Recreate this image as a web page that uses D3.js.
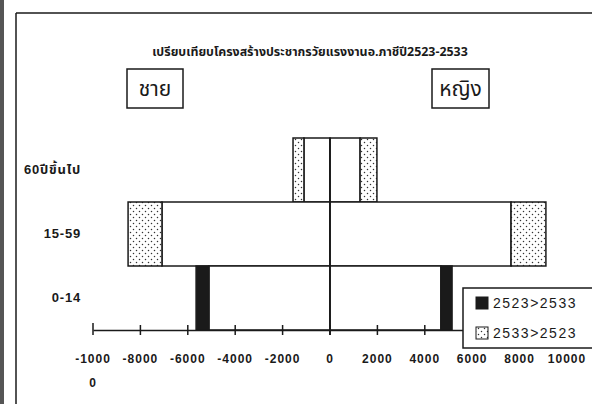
<!DOCTYPE html>
<html><head><meta charset="utf-8">
<script src="https://cdn.jsdelivr.net/npm/d3@7"></script>
<style>
body{margin:0;background:#fff;}
svg{display:block;}
</style></head><body>
<svg id="c" width="592" height="404"></svg>
<script>
const categories = ["60ปีขึ้นไป", "15-59", "0-14"];
const male2523   = [1100, 7090, 5650];
const male2533   = [1560, 8520, 5110];
const female2523 = [1270, 7640, 5150];
const female2533 = [1980, 9110, 4680];
const tickValues = [-10000, -8000, -6000, -4000, -2000, 0, 2000, 4000, 6000, 8000, 10000];
const title = "เปรียบเทียบโครงสร้างประชากรวัยแรงงานอ.ภาชีปี2523-2533";
const legendLabels = ["2523>2533", "2533>2523"];
const sideLabels = ["ชาย", "หญิง"];

const svg = d3.select("#c");
const ink = "#1a1a1a";
const thaiFont = "'Noto Sans Thai','Noto Sans','DejaVu Sans',sans-serif";
const numFont = "'Liberation Sans',Arial,'Noto Sans Thai',sans-serif";

// pattern
const defs = svg.append("defs");
const pat = defs.append("pattern").attr("id","dots").attr("patternUnits","userSpaceOnUse")
  .attr("width",6).attr("height",6);
pat.append("rect").attr("width",6).attr("height",6).attr("fill","#fff");
pat.append("circle").attr("cx",1.5).attr("cy",1.5).attr("r",0.75).attr("fill","#333");
pat.append("circle").attr("cx",4.5).attr("cy",4.5).attr("r",0.75).attr("fill","#333");

// scan border & frame
svg.append("rect").attr("x",0).attr("y",0).attr("width",4).attr("height",404).attr("fill","#555");
svg.append("line").attr("x1",16).attr("x2",592).attr("y1",13).attr("y2",13).attr("stroke",ink).attr("stroke-width",1.5);
svg.append("line").attr("x1",16).attr("x2",16).attr("y1",13).attr("y2",404).attr("stroke",ink).attr("stroke-width",1.5);

const x = d3.scaleLinear().domain([-10000, 10000]).range([93, 567]);
const y = d3.scaleBand().domain(categories).range([138, 330]).padding(0);

// title
svg.append("text").attr("x",310).attr("y",56).attr("text-anchor","middle")
  .attr("font-family",thaiFont).attr("font-weight","bold").attr("font-size",12.4)
  .attr("fill",ink).text(title);

// side boxes
const boxes = [{x0:127,x1:183,label:sideLabels[0]},{x0:432,x1:489,label:sideLabels[1]}];
boxes.forEach(b=>{
  svg.append("rect").attr("x",b.x0).attr("y",69).attr("width",b.x1-b.x0).attr("height",39)
    .attr("fill","#fff").attr("stroke",ink).attr("stroke-width",1.5);
  svg.append("text").attr("x",(b.x0+b.x1)/2).attr("y",96).attr("text-anchor","middle")
    .attr("font-family",thaiFont).attr("font-size",21).attr("fill",ink).text(b.label);
});

// bars
const rows = categories.map((c,i)=>({c, m23:male2523[i], m33:male2533[i], f23:female2523[i], f33:female2533[i]}));
const g = svg.append("g");
function seg(c, v0, v1, fill){
  g.append("rect")
    .attr("x", Math.min(x(v0),x(v1))).attr("width", Math.abs(x(v1)-x(v0)))
    .attr("y", y(c)).attr("height", y.bandwidth())
    .attr("fill", fill).attr("stroke", ink).attr("stroke-width",1.5);
}
rows.forEach(r=>{
  const mMin = Math.min(r.m23, r.m33), mMax = Math.max(r.m23, r.m33);
  seg(r.c, 0, -mMin, "#fff");
  seg(r.c, -mMin, -mMax, r.m23 > r.m33 ? "#1a1a1a" : "url(#dots)");
  const fMin = Math.min(r.f23, r.f33), fMax = Math.max(r.f23, r.f33);
  seg(r.c, 0, fMin, "#fff");
  seg(r.c, fMin, fMax, r.f23 > r.f33 ? "#1a1a1a" : "url(#dots)");
});

// vertical axis at 0
svg.append("line").attr("x1",x(0)).attr("x2",x(0)).attr("y1",138).attr("y2",335)
  .attr("stroke",ink).attr("stroke-width",1.8);

// category labels
categories.forEach(c=>{
  svg.append("text").attr("x",81).attr("y",y(c)+y.bandwidth()/2+4).attr("text-anchor","end")
    .attr("font-family",numFont).attr("font-weight","bold").attr("font-size",13)
    .attr("letter-spacing",0.8).attr("fill",ink).text(c);
});

// x axis
const axis = d3.axisBottom(x).tickValues(tickValues).tickSize(0).tickFormat("");
const ag = svg.append("g").attr("transform","translate(0,330)").call(axis);
ag.select(".domain").attr("stroke",ink).attr("stroke-width",1.5);
tickValues.forEach(v=>{
  svg.append("line").attr("x1",x(v)).attr("x2",x(v)).attr("y1",v===-10000?323:325).attr("y2",335)
    .attr("stroke",ink).attr("stroke-width",1.5);
});
tickValues.forEach(v=>{
  const t = svg.append("text").attr("x",x(v)).attr("y",363).attr("text-anchor","middle")
    .attr("font-family",numFont).attr("font-weight","bold").attr("font-size",12)
    .attr("letter-spacing",1).attr("fill",ink);
  const s = String(v);
  if (v === -10000) {
    t.append("tspan").attr("x",x(v)).attr("dy",0).text(s.slice(0,5));
    t.append("tspan").attr("x",x(v)).attr("dy",24).text(s.slice(5));
  } else t.text(s);
});

// legend
const lg = svg.append("g");
lg.append("rect").attr("x",463).attr("y",288).attr("width",140).attr("height",60)
  .attr("fill","#fff").attr("stroke",ink).attr("stroke-width",1.5);
const fills = ["#1a1a1a","url(#dots)"];
legendLabels.forEach((l,i)=>{
  const yy = 303 + i*30;
  lg.append("rect").attr("x",476).attr("y",yy-6).attr("width",12).attr("height",12)
    .attr("fill",fills[i]).attr("stroke",ink).attr("stroke-width",1);
  lg.append("text").attr("x",493).attr("y",yy+5).attr("font-family",numFont)
    .attr("font-size",14).attr("letter-spacing",1.5).attr("fill",ink).text(l);
});
</script>
</body></html>
